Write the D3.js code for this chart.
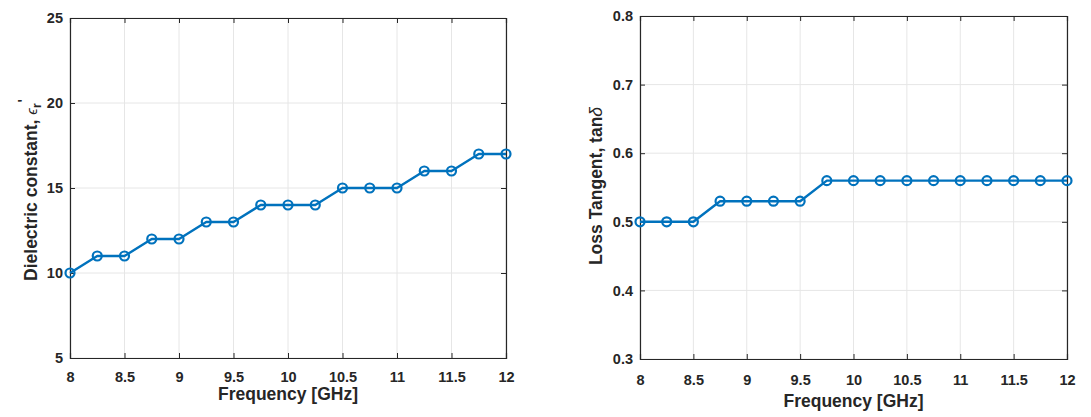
<!DOCTYPE html>
<html><head><meta charset="utf-8">
<script src="https://cdn.jsdelivr.net/npm/d3@7"></script>
<style>
body{margin:0;background:#fff;}
svg text{font-family:"Liberation Sans",Arial,sans-serif;font-weight:bold;fill:#262626;}
</style></head>
<body><svg id="c" width="1091" height="417"></svg>
<script>
const freq = [8,8.25,8.5,8.75,9,9.25,9.5,9.75,10,10.25,10.5,10.75,11,11.25,11.5,11.75,12];
const dielectric = [10,11,11,12,12,13,13,14,14,14,15,15,15,16,16,17,17];
const lossTangent = [0.5,0.5,0.5,0.53,0.53,0.53,0.53,0.56,0.56,0.56,0.56,0.56,0.56,0.56,0.56,0.56,0.56];
const xTicks = [8,8.5,9,9.5,10,10.5,11,11.5,12];
const yTicksLeft = [5,10,15,20,25];
const yTicksRight = [0.3,0.4,0.5,0.6,0.7,0.8];

const svg = d3.select("#c");
const blue = "#0072BD";

function panel(cfg){
  const g = svg.append("g");
  const x = d3.scaleLinear().domain([8,12]).range([cfg.x0,cfg.x1]);
  const y = d3.scaleLinear().domain(cfg.ydom).range([cfg.y1,cfg.y0]);
  // grid
  g.append("g").selectAll("line").data(xTicks).join("line")
    .attr("x1",d=>x(d)).attr("x2",d=>x(d)).attr("y1",cfg.y0).attr("y2",cfg.y1)
    .attr("stroke","#e6e6e6").attr("stroke-width",1);
  g.append("g").selectAll("line").data(cfg.yticks).join("line")
    .attr("x1",cfg.x0).attr("x2",cfg.x1).attr("y1",d=>y(d)).attr("y2",d=>y(d))
    .attr("stroke","#e6e6e6").attr("stroke-width",1);
  // axes with inward ticks
  const tl = 5;
  const ax = g.append("g").attr("transform",`translate(0,${cfg.y1})`)
    .call(d3.axisBottom(x).tickValues(xTicks).tickSize(-tl).tickPadding(cfg.xpad).tickFormat(d3.format("")));
  const ay = g.append("g").attr("transform",`translate(${cfg.x0},0)`)
    .call(d3.axisLeft(y).tickValues(cfg.yticks).tickSize(-tl).tickPadding(7).tickFormat(cfg.fmt));
  const axt = g.append("g").attr("transform",`translate(0,${cfg.y0})`)
    .call(d3.axisTop(x).tickValues(xTicks).tickSize(-tl).tickFormat(""));
  const ayr = g.append("g").attr("transform",`translate(${cfg.x1},0)`)
    .call(d3.axisRight(y).tickValues(cfg.yticks).tickSize(-tl).tickFormat(""));
  [ax,ay,axt,ayr].forEach(a=>{
    a.select(".domain").attr("stroke","#262626").attr("stroke-width",1.2);
    a.selectAll(".tick line").attr("stroke","#262626").attr("stroke-width",1);
    a.selectAll(".tick text").attr("font-size",14.5).attr("font-family","Liberation Sans, Arial, sans-serif").attr("font-weight","bold").attr("fill","#262626");
  });
  // line
  const line = d3.line().x((d,i)=>x(freq[i])).y(d=>y(d));
  g.append("path").datum(cfg.data).attr("d",line).attr("fill","none")
    .attr("stroke",blue).attr("stroke-width",2.4).attr("stroke-linejoin","round");
  g.append("g").selectAll("circle").data(cfg.data).join("circle")
    .attr("cx",(d,i)=>x(freq[i])).attr("cy",d=>y(d)).attr("r",4.5)
    .attr("fill","none").attr("stroke",blue).attr("stroke-width",2.2);
  // labels
  g.append("text").attr("x",(cfg.x0+cfg.x1)/2).attr("y",cfg.xly)
    .attr("text-anchor","middle").attr("font-size",17.5).text("Frequency [GHz]");
  const yl = g.append("text").attr("transform",`translate(${cfg.ylx},${cfg.yly}) rotate(-90)`)
    .attr("text-anchor","middle").attr("font-size",17.5);
  cfg.ylab(yl);
}

panel({x0:70,x1:506,y0:18,y1:358,ydom:[5,25],yticks:yTicksLeft,data:dielectric,
  fmt:d3.format(""),xpad:13.5,xly:400,ylx:37,yly:190,
  ylab:t=>{
    t.append("tspan").text("Dielectric constant, ");
    t.append("tspan").attr("font-style","italic").attr("font-weight","normal").attr("font-size",15).text("ϵ");
    t.append("tspan").attr("font-size",12).attr("dy",4).text("r");
    t.append("tspan").attr("font-size",14).attr("dy",-13).attr("dx",1).text("'");
  }});
panel({x0:640,x1:1067,y0:16,y1:359,ydom:[0.3,0.8],yticks:yTicksRight,data:lossTangent,
  fmt:d3.format(".1f"),xpad:16,xly:406.5,ylx:602,yly:186,
  ylab:t=>{
    t.append("tspan").text("Loss Tangent, tan");
    t.append("tspan").attr("font-style","italic").attr("font-weight","normal").text("δ");
  }});
</script></body></html>
